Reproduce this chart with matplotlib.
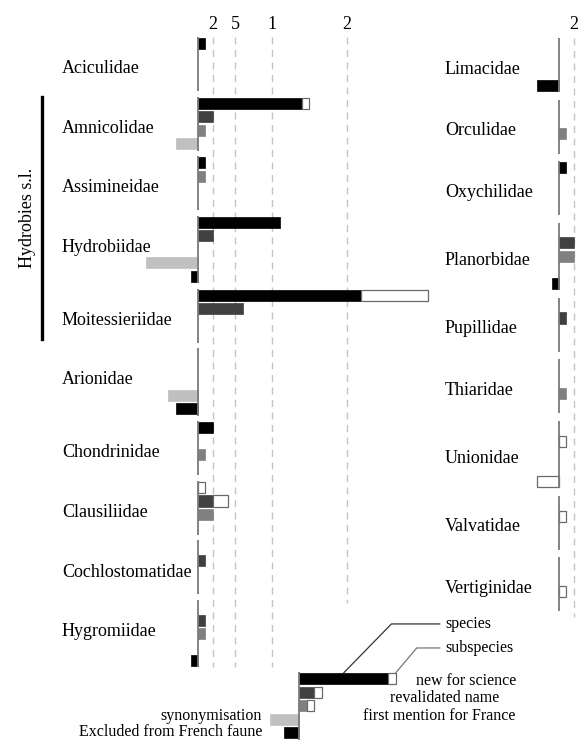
import matplotlib
matplotlib.use("Agg")
import matplotlib.pyplot as plt
from matplotlib.transforms import blended_transform_factory

plt.rcParams['font.family'] = ['Liberation Serif', 'DejaVu Serif']

# categories, in the order of the bar rows inside one family block
categories = ["new for science", "revalidated name", "first mention for France",
              "synonymisation", "Excluded from French faune"]
cat_colors = ["#000000", "#404040", "#808080", "#c0c0c0", "#000000"]

# left column
left_families = ["Aciculidae", "Amnicolidae", "Assimineidae", "Hydrobiidae", "Moitessieriidae",
                 "Arionidae", "Chondrinidae", "Clausiliidae", "Cochlostomatidae", "Hygromiidae"]
left_species = [
    [1, 0, 0, 0, 0],
    [14, 2, 1, -3, 0],
    [1, 0, 1, 0, 0],
    [11, 2, 0, -7, -1],
    [22, 6, 0, 0, 0],
    [0, 0, 0, -4, -3],
    [2, 0, 1, 0, 0],
    [0, 2, 2, 0, 0],
    [0, 1, 0, 0, 0],
    [0, 1, 1, 0, -1],
]
left_subspecies = [
    [0, 0, 0, 0, 0],
    [1, 0, 0, 0, 0],
    [0, 0, 0, 0, 0],
    [0, 0, 0, 0, 0],
    [9, 0, 0, 0, 0],
    [0, 0, 0, 0, 0],
    [0, 0, 0, 0, 0],
    [1, 2, 0, 0, 0],
    [0, 0, 0, 0, 0],
    [0, 0, 0, 0, 0],
]

# right column
right_families = ["Limacidae", "Orculidae", "Oxychilidae", "Planorbidae", "Pupillidae",
                  "Thiaridae", "Unionidae", "Valvatidae", "Vertiginidae"]
right_species = [
    [0, 0, 0, 0, -3],
    [0, 0, 1, 0, 0],
    [1, 0, 0, 0, 0],
    [0, 2, 2, 0, -1],
    [0, 1, 0, 0, 0],
    [0, 0, 1, 0, 0],
    [0, 0, 0, 0, 0],
    [0, 0, 0, 0, 0],
    [0, 0, 0, 0, 0],
]
right_subspecies = [
    [0, 0, 0, 0, 0],
    [0, 0, 0, 0, 0],
    [0, 0, 0, 0, 0],
    [0, 0, 0, 0, 0],
    [0, 0, 0, 0, 0],
    [0, 0, 0, 0, 0],
    [0, 1, 0, 0, -3],
    [0, 1, 0, 0, 0],
    [0, 0, 1, 0, 0],
]

# legend example
legend_species = [12, 2, 1, -4, -2]
legend_subspecies = [1, 1, 1, 0, 0]

tick_values = [2, 5, 10, 20]
tick_labels = ["2", "5", "1", "2"]

# ---- layout (pixels) ----
W, H = 580, 740
UNIT = 7.43    # px per taxon
PITCH = 13.5   # px per bar row
BAR_H = 0.82
left_rows = [4, 4, 4, 5, 4, 5, 4, 4, 4, 5]
right_rows = [4, 4, 4, 5, 4, 4, 5, 4, 4]
row_override = {("Assimineidae", 2): 1, ("Limacidae", 4): 3}
ZERO_COLOR = "#7a7a7a"
GRID_COLOR = "#c4c4c4"

fig = plt.figure(figsize=(W / 100, H / 100), dpi=100)


def panel(x0, x1, zero, top):
    ax = fig.add_axes([x0 / W, 0, (x1 - x0) / W, 1])
    ax.set_xlim((x0 - zero) / UNIT, (x1 - zero) / UNIT)
    ax.set_ylim((H - top) / PITCH, -top / PITCH)
    ax.axis("off")
    return ax


def draw_row(ax, yc, i, s, ss):
    if s:
        ax.barh(yc, s, height=BAR_H, color=cat_colors[i], edgecolor=cat_colors[i], lw=0.5)
    if ss:
        ax.barh(yc, ss, left=s, height=BAR_H, color="white", edgecolor="#6a6a6a", lw=0.9)


def draw_blocks(ax, families, species, subspecies, nrows, gap, label_x, label_pos):
    trans = blended_transform_factory(fig.transFigure, ax.transData)
    starts = []
    y = 0
    for fam, sp, ssp, n in zip(families, species, subspecies, nrows):
        ax.vlines(0, y, y + n, color=ZERO_COLOR, lw=1.3, zorder=3)
        for i, (s, ss) in enumerate(zip(sp, ssp)):
            if s == 0 and ss == 0:
                continue
            r = row_override.get((fam, i), i)
            draw_row(ax, y + r + 0.5, i, s, ss)
        ax.text(label_x / W, y + label_pos(n), fam, transform=trans, fontsize=13,
                ha="left", va="center")
        starts.append(y)
        y += n + gap
    return starts


# left panel
axl = panel(140, 440, 198, 37)
for v in tick_values:
    end = 41.9 if v == 20 else 46.7
    axl.vlines(v, 0, end, color=GRID_COLOR, lw=1, linestyles=(0, (5, 4)), zorder=0)
for v, t in zip(tick_values, tick_labels):
    axl.text(v, -0.95, t, fontsize=13, ha="center", va="center")
lstarts = draw_blocks(axl, left_families, left_species, left_subspecies, left_rows, 0.41, 62,
                      lambda n: 2.35)

# Hydrobies s.l. bracket
tl = blended_transform_factory(fig.transFigure, axl.transData)
y_a = lstarts[1]
y_b = lstarts[4] + 3.7
axl.plot([42 / W, 42 / W], [y_a, y_b], color="black", lw=2.4, transform=tl, clip_on=False)
axl.text(28 / W, (y_a + y_b) / 2, "Hydrobies s.l.", transform=tl, rotation=90,
         fontsize=13, ha="center", va="center")

# right panel
axr = panel(530, 580, 559, 38)
axr.vlines(tick_values[0], 0, 42.9, color=GRID_COLOR, lw=1, linestyles=(0, (5, 4)), zorder=0)
axr.text(tick_values[0], -1.03, tick_labels[0], fontsize=13, ha="center", va="center")
draw_blocks(axr, right_families, right_species, right_subspecies, right_rows, 0.56, 445,
            lambda n: n / 2 + 0.3)

# legend
axg = panel(140, 580, 299.3, 672)
axg.vlines(0, 0, 5, color=ZERO_COLOR, lw=1.3, zorder=3)
for i, (s, ss) in enumerate(zip(legend_species, legend_subspecies)):
    draw_row(axg, i + 0.5, i, s, ss)

top_y = 0.05
sp_y = -3.56
ssp_y = -1.78
end_x = 18.9
axg.plot([legend_species[0] / 2, 12.4, end_x], [top_y, sp_y, sp_y], color="#333333", lw=0.9)
axg.plot([legend_species[0] + legend_subspecies[0], 15.8, end_x], [top_y, ssp_y, ssp_y],
         color="#777777", lw=0.9)
axg.text(19.6, sp_y, "species", fontsize=11.5, ha="left", va="center")
axg.text(19.6, ssp_y, "subspecies", fontsize=11.5, ha="left", va="center")

axg.text(22.4, 0.67, categories[0], fontsize=11.5, ha="center", va="center")
axg.text(19.6, 1.93, categories[1], fontsize=11.5, ha="center", va="center")
axg.text(18.8, 3.26, categories[2], fontsize=11.5, ha="center", va="center")
axg.text(-5.0, 3.26, categories[3], fontsize=11.5, ha="right", va="center")
axg.text(-5.0, 4.45, categories[4], fontsize=11.5, ha="right", va="center")

fig.savefig("out.png", dpi=100)
